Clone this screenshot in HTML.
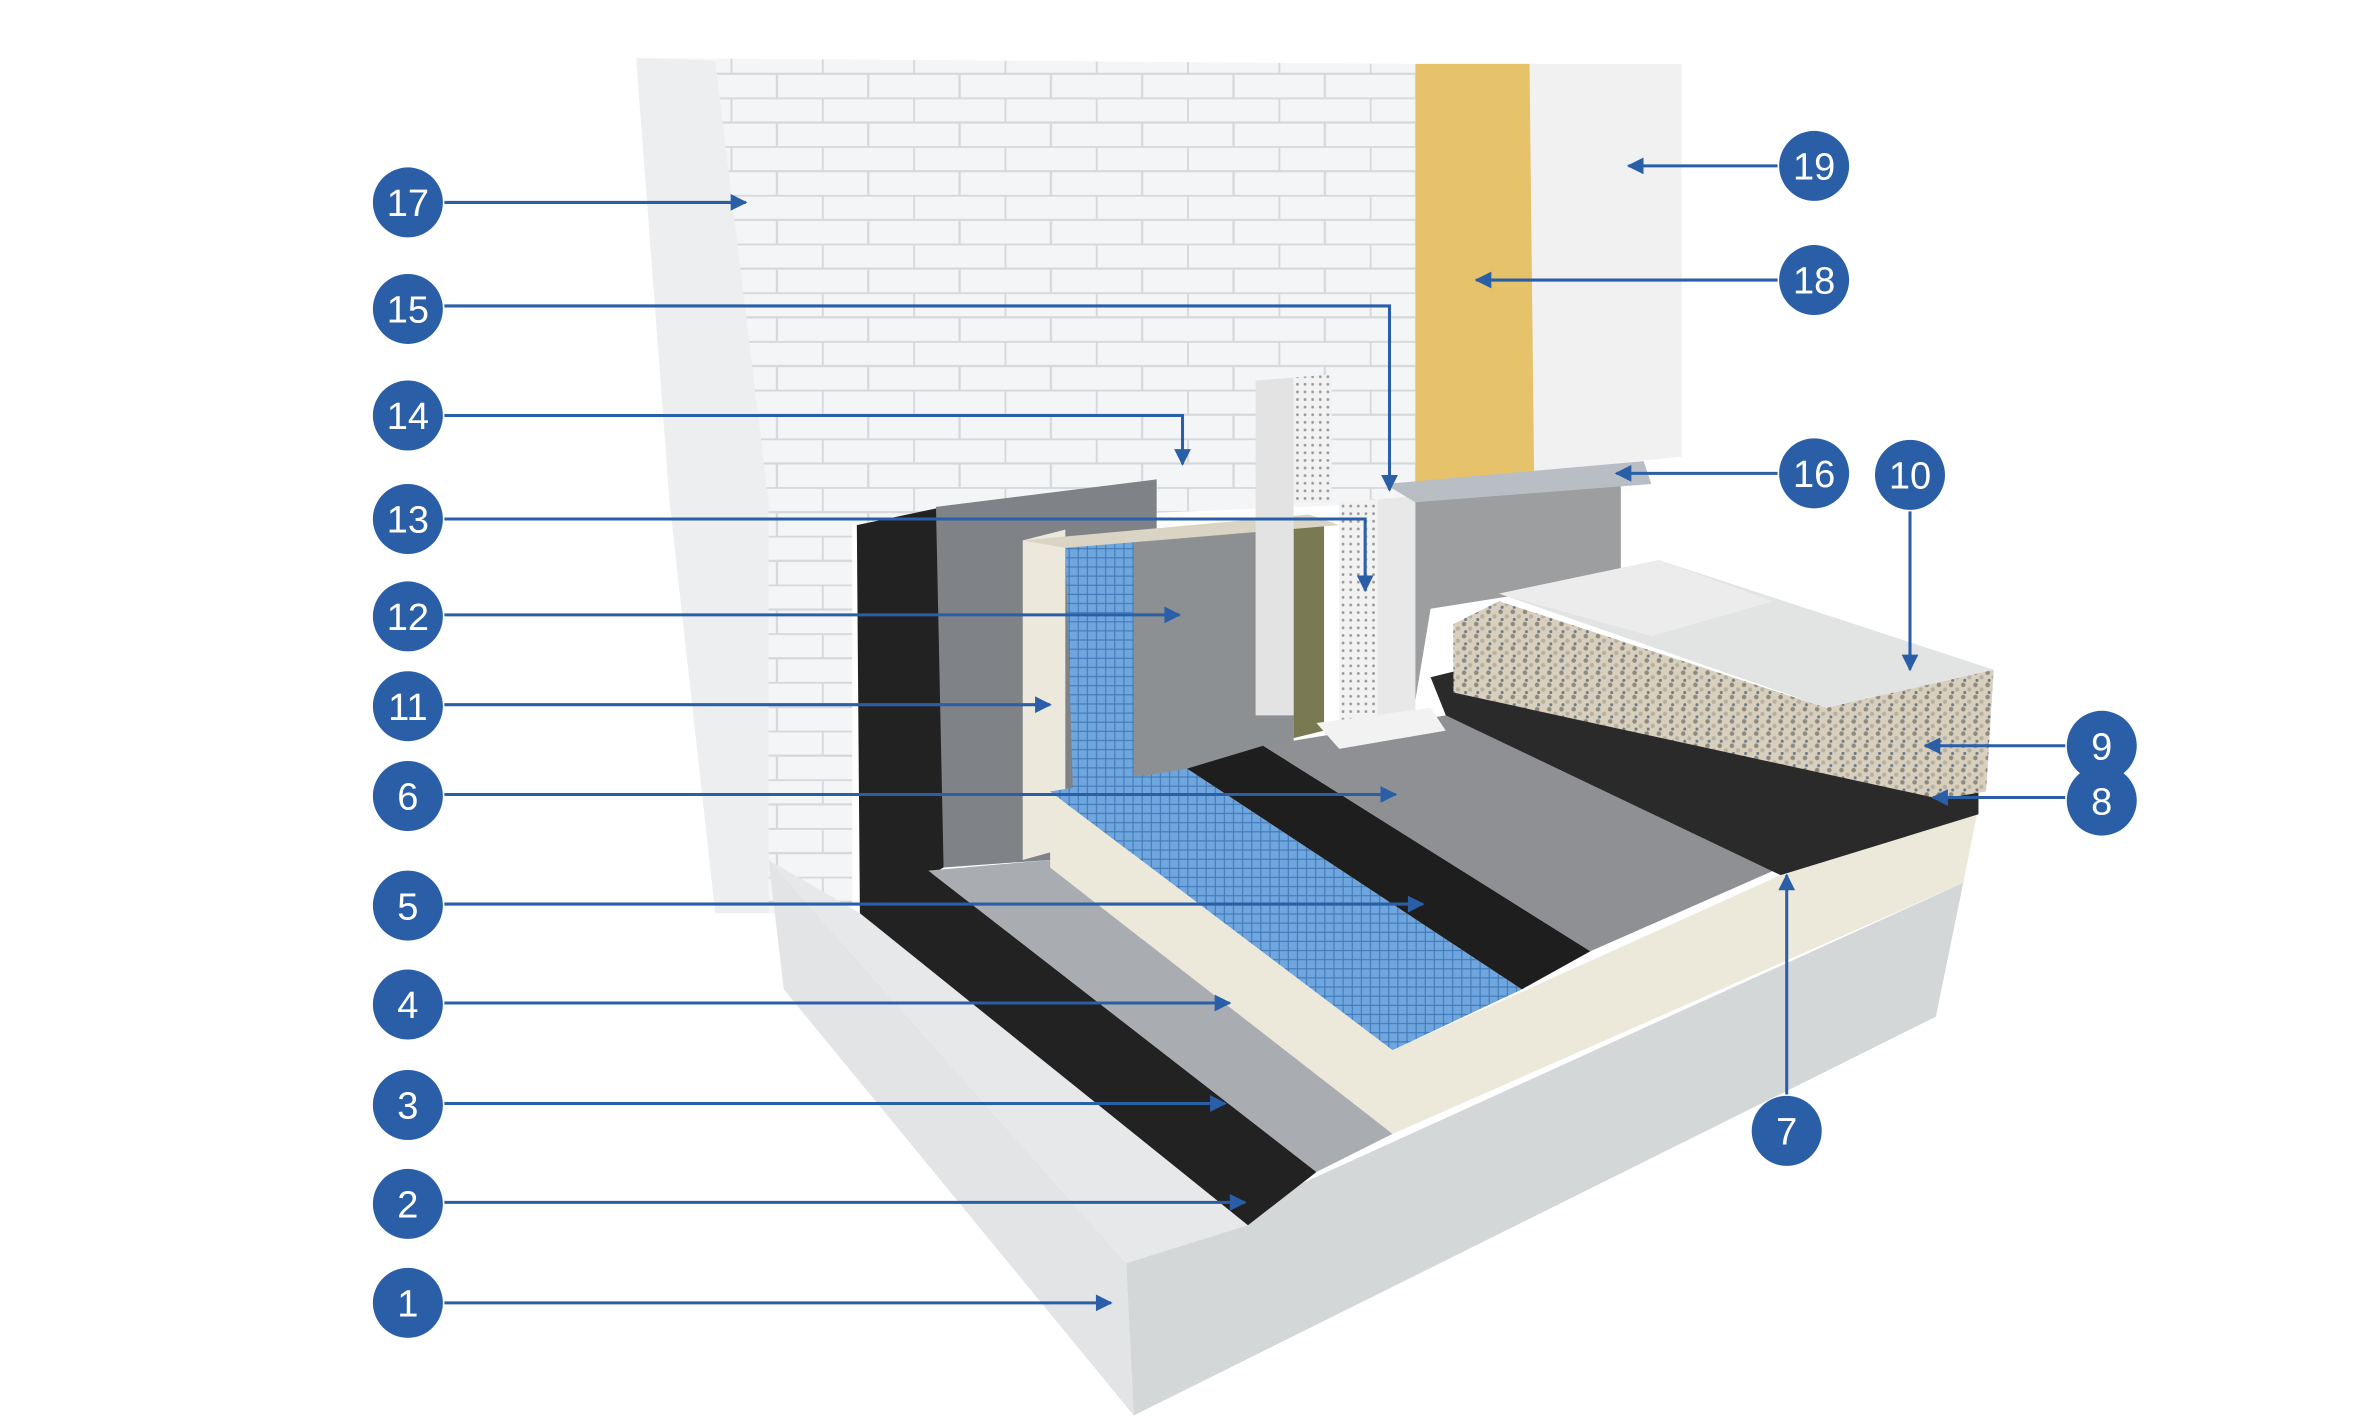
<!DOCTYPE html>
<html><head><meta charset="utf-8"><style>html,body{margin:0;padding:0;background:#fff}svg{display:block}</style></head>
<body>
<svg width="2362" height="1417" viewBox="0 0 1552 931" preserveAspectRatio="none" xmlns="http://www.w3.org/2000/svg">
<defs>
<marker id="a" viewBox="0 0 10 10" refX="9" refY="5" markerWidth="13" markerHeight="11" orient="auto" markerUnits="userSpaceOnUse"><path d="M0,0 L10,5 L0,10z" fill="#2a5fa8"/></marker>
<pattern id="brick" width="60" height="32" patternUnits="userSpaceOnUse"><rect width="60" height="32" fill="#f4f5f6"/><path d="M0,0.5H60M0,16.5H60M0.5,0V16M30.5,16V32" stroke="#d6d9dc" stroke-width="1.5"/></pattern>
<pattern id="grid" width="6" height="6" patternUnits="userSpaceOnUse"><rect width="6" height="6" fill="#6fa6dd"/><path d="M0,0.5H6M0.5,0V6" stroke="#3f78b8" stroke-width="0.7"/></pattern>
<pattern id="grav" width="8" height="8" patternUnits="userSpaceOnUse"><rect width="8" height="8" fill="#d8cfbc"/><circle cx="2" cy="2" r="1.5" fill="#8f8a80"/><circle cx="6" cy="5" r="1.4" fill="#b6b0a2"/><circle cx="3" cy="7" r="1" fill="#6b7b8c"/></pattern>
<pattern id="dots" width="5" height="5" patternUnits="userSpaceOnUse"><rect width="5" height="5" fill="#f2f2f2"/><circle cx="2.5" cy="2.5" r="0.9" fill="#999"/></pattern>
</defs>
<!-- wall -->
<polygon points="418,38 930,42 930,330 560,345 560,600 505,600 470,330 440,100" fill="url(#brick)"/>
<polygon points="418,38 470,40 505,330 505,600 470,600 440,330" fill="#eceef0"/>
<!-- concrete base -->
<polygon points="505,565 740,830 745,930 515,650" fill="#e2e4e5"/>
<polygon points="740,830 1290,580 1272,668 745,930" fill="#d4d7d8"/>
<polygon points="505,565 565,600 820,805 740,830" fill="#e6e8e9"/>
<!-- dark vertical membrane -->
<polygon points="563,345 620,333 620,570 565,600" fill="#222"/>
<polygon points="565,600 610,572 865,770 820,805" fill="#222"/>
<polygon points="615,333 760,315 760,560 620,570" fill="#7f8287"/>
<polygon points="610,572 690,565 915,745 865,770" fill="#a9adb2"/>
<!-- insulation vertical + slab -->
<polygon points="672,355 700,348 700,520 690,560 672,565" fill="#ece8dc"/>
<polygon points="700,355 750,350 750,520 705,520" fill="url(#grid)"/>
<polygon points="745,350 850,340 850,500 745,510" fill="#8d9093"/>
<polygon points="850,345 870,345 870,480 850,485" fill="#7a7a52"/>
<polygon points="672,355 860,338 880,345 700,360" fill="#d9d4c4"/>
<polygon points="690,520 780,505 1000,650 915,690" fill="url(#grid)"/>
<polygon points="690,520 915,690 915,745 690,570" fill="#ece8da"/>
<polygon points="915,690 1170,575 1300,530 1290,580 915,745" fill="#ece8da"/>
<!-- cap strip / black membrane strip -->
<polygon points="780,505 830,490 1045,625 1000,650" fill="#1e1e1e"/>
<polygon points="830,490 950,470 1170,570 1045,625" fill="#8e9094"/>
<!-- vertical components -->
<polygon points="825,250 850,248 850,470 825,470" fill="#e3e3e3"/>
<polygon points="850,248 875,246 875,330 850,330" fill="url(#dots)"/>
<polygon points="880,330 905,328 905,475 880,478" fill="url(#dots)"/>
<polygon points="905,328 930,326 930,470 905,472" fill="#e8e8e8"/>
<polygon points="865,475 940,465 950,480 880,492" fill="#f2f2f2"/>
<polygon points="930,320 1065,310 1065,380 940,400 930,460" fill="#9c9ea0"/>
<!-- yellow insulation and white panel -->
<polygon points="930,42 1008,42 1008,310 930,320" fill="#e6c26b"/>
<polygon points="1005,42 1105,42 1105,300 1008,310" fill="#f1f1f2"/>
<polygon points="910,318 1080,303 1085,318 930,330" fill="#b8bec4"/>
<!-- drainage, gravel, slabs -->
<polygon points="940,445 960,440 1300,520 1300,535 1170,575 950,470" fill="#2a2a2a"/>
<polygon points="955,410 985,395 1200,465 1310,440 1305,520 1275,525 955,455" fill="url(#grav)"/>
<polygon points="985,390 1090,368 1310,440 1200,465" fill="#e2e3e3"/>
<polygon points="985,390 1090,368 1165,395 1085,418" fill="#ececec"/>
<!-- callout lines -->
<g stroke="#2a5fa8" stroke-width="2" fill="none" marker-end="url(#a)">
<path d="M292,133H490"/><path d="M292,201H913V322"/><path d="M292,273H777V305"/><path d="M292,341H897V388"/>
<path d="M292,404H775"/><path d="M292,463H690"/><path d="M292,522H917"/><path d="M292,594H935"/>
<path d="M292,659H808"/><path d="M292,725H805"/><path d="M292,790H818"/><path d="M292,856H730"/>
<path d="M1168,109H1070"/><path d="M1168,184H970"/><path d="M1168,311H1062"/><path d="M1255,336V440"/>
<path d="M1357,490H1265"/><path d="M1357,524H1270"/><path d="M1174,719V575"/>
</g>
<g fill="#2a5fa8">
<circle cx="268" cy="133" r="23"/><circle cx="268" cy="203" r="23"/><circle cx="268" cy="273" r="23"/><circle cx="268" cy="341" r="23"/>
<circle cx="268" cy="405" r="23"/><circle cx="268" cy="464" r="23"/><circle cx="268" cy="523" r="23"/><circle cx="268" cy="595" r="23"/>
<circle cx="268" cy="660" r="23"/><circle cx="268" cy="726" r="23"/><circle cx="268" cy="791" r="23"/><circle cx="268" cy="856" r="23"/>
<circle cx="1192" cy="109" r="23"/><circle cx="1192" cy="184" r="23"/><circle cx="1192" cy="311" r="23"/><circle cx="1255" cy="312" r="23"/>
<circle cx="1381" cy="490" r="23"/><circle cx="1381" cy="526" r="23"/><circle cx="1174" cy="743" r="23"/>
</g>
<g fill="#fff" font-family="Liberation Sans, sans-serif" font-size="25" text-anchor="middle">
<text x="268" y="142">17</text><text x="268" y="212">15</text><text x="268" y="282">14</text><text x="268" y="350">13</text>
<text x="268" y="414">12</text><text x="268" y="473">11</text><text x="268" y="532">6</text><text x="268" y="604">5</text>
<text x="268" y="669">4</text><text x="268" y="735">3</text><text x="268" y="800">2</text><text x="268" y="865">1</text>
<text x="1192" y="118">19</text><text x="1192" y="193">18</text><text x="1192" y="320">16</text><text x="1255" y="321">10</text>
<text x="1381" y="499">9</text><text x="1381" y="535">8</text><text x="1174" y="752">7</text>
</g>
</svg>
</body></html>
